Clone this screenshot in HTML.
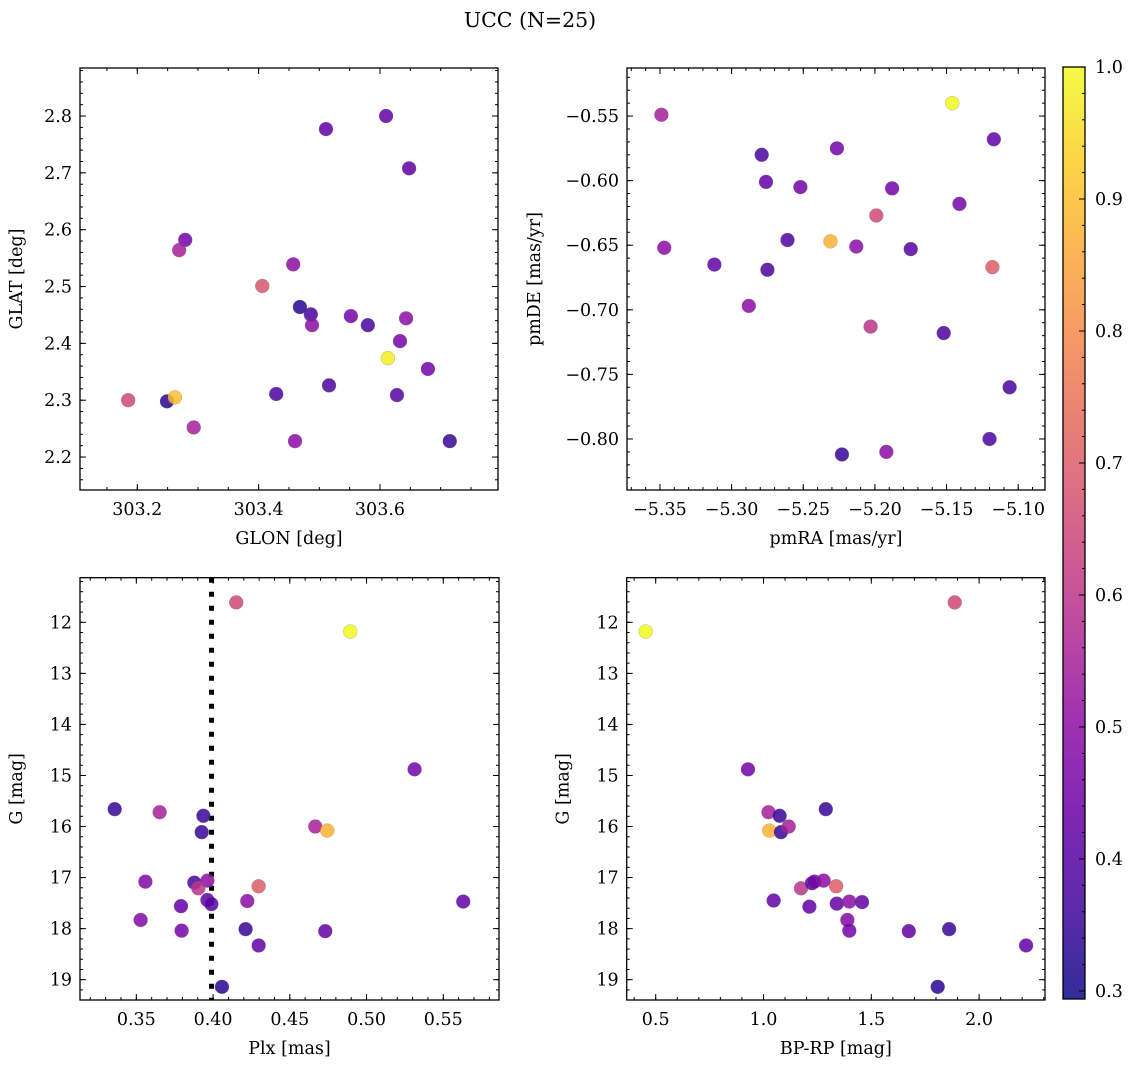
<!DOCTYPE html>
<html><head><meta charset="utf-8">
<style>
body{margin:0;background:#fff;}
svg{display:block;font-family:"DejaVu Serif","Liberation Serif",serif;}
</style></head>
<body>
<svg id="fig" width="1136" height="1067" viewBox="0 0 1136 1067" xmlns="http://www.w3.org/2000/svg">
<text x="530" y="27" font-size="20.5" text-anchor="middle">UCC (N=25)</text>
</svg>
<script>
// Panel 1: GLON / GLAT
const glon = [303.511,303.610,303.648,303.279,303.269,303.457,303.406,303.468,303.486,303.552,303.643,303.488,303.580,303.633,303.613,303.679,303.516,303.429,303.628,303.185,303.249,303.262,303.293,303.460,303.715];
const glat = [2.777,2.800,2.708,2.582,2.564,2.539,2.501,2.464,2.451,2.448,2.444,2.432,2.432,2.404,2.374,2.355,2.326,2.311,2.309,2.300,2.298,2.305,2.252,2.228,2.228];
const prob1 = [0.42,0.42,0.42,0.45,0.55,0.5,0.68,0.33,0.37,0.45,0.5,0.5,0.38,0.45,0.98,0.45,0.38,0.38,0.4,0.65,0.33,0.9,0.55,0.5,0.35];
// Panel 2: pmRA / pmDE
const pmra = [-5.146,-5.349,-5.117,-5.2265,-5.279,-5.276,-5.252,-5.188,-5.141,-5.199,-5.261,-5.231,-5.213,-5.347,-5.175,-5.312,-5.275,-5.118,-5.288,-5.203,-5.152,-5.106,-5.120,-5.192,-5.223];
const pmde = [-0.540,-0.549,-0.568,-0.575,-0.580,-0.601,-0.605,-0.606,-0.618,-0.627,-0.646,-0.647,-0.651,-0.652,-0.653,-0.665,-0.669,-0.667,-0.697,-0.713,-0.718,-0.760,-0.800,-0.810,-0.812];
const prob2 = [1.0,0.55,0.42,0.45,0.38,0.42,0.45,0.45,0.45,0.65,0.38,0.88,0.5,0.5,0.4,0.42,0.38,0.7,0.5,0.6,0.38,0.38,0.38,0.5,0.35];
// Panel 3: Plx / G
const plx = [0.4151,0.4894,0.5313,0.3359,0.3652,0.3937,0.3926,0.4666,0.4744,0.3559,0.3878,0.3963,0.3904,0.4297,0.3963,0.3989,0.4223,0.5630,0.3791,0.3528,0.3795,0.4212,0.4731,0.4297,0.4058];
const gmag3 = [11.61,12.18,14.88,15.66,15.72,15.79,16.11,16.00,16.08,17.08,17.10,17.06,17.21,17.17,17.44,17.52,17.46,17.47,17.56,17.83,18.04,18.01,18.05,18.33,19.14];
const prob3 = [0.65,1.0,0.45,0.35,0.55,0.35,0.35,0.55,0.88,0.48,0.38,0.5,0.6,0.7,0.42,0.4,0.5,0.42,0.42,0.48,0.45,0.35,0.42,0.42,0.33];
const plxLine = 0.399;
// Panel 4: BP-RP / G
const bprp = [0.4536,1.887,0.928,1.023,1.075,1.289,1.027,1.081,1.117,1.174,1.225,1.236,1.279,1.337,1.047,1.213,1.340,1.398,1.457,1.389,1.398,1.674,1.861,2.218,1.808];
const gmag4 = [12.18,11.61,14.88,15.72,15.79,15.66,16.08,16.11,16.00,17.21,17.11,17.08,17.06,17.17,17.45,17.57,17.51,17.47,17.48,17.83,18.04,18.05,18.01,18.33,19.14];
const prob4 = [1.0,0.65,0.45,0.55,0.35,0.35,0.88,0.35,0.55,0.6,0.38,0.45,0.5,0.7,0.42,0.42,0.42,0.5,0.42,0.48,0.45,0.42,0.35,0.42,0.33];
// Tick labels
const glonTicks = [303.2,303.4,303.6];
const glatTicks = [2.2,2.3,2.4,2.5,2.6,2.7,2.8];
const pmraTicks = [-5.35,-5.30,-5.25,-5.20,-5.15,-5.10];
const pmdeTicks = [-0.55,-0.60,-0.65,-0.70,-0.75,-0.80];
const plxTicks = [0.35,0.40,0.45,0.50,0.55];
const gTicks = [12,13,14,15,16,17,18,19];
const bprpTicks = [0.5,1.0,1.5,2.0];
const cbarTicks = [0.3,0.4,0.5,0.6,0.7,0.8,0.9,1.0];
const cmin = 0.2939, cmax = 1.0;

const FS = 17.5;
const NS = "http://www.w3.org/2000/svg";
const svg = document.getElementById('fig');
function mk(tag, attrs, parent){const e=document.createElementNS(NS,tag);for(const k in attrs)e.setAttribute(k,attrs[k]);(parent||svg).appendChild(e);return e;}
const stops=[[13,8,135],[65,4,157],[106,0,168],[143,13,164],[177,42,144],[204,71,120],[225,100,98],[242,132,75],[252,166,54],[252,206,37],[240,249,33]];
function plasma(t){t=Math.max(0,Math.min(1,t));const f=t*10,i=Math.min(9,Math.floor(f)),u=f-i;const a=stops[i],b=stops[i+1];return 'rgb('+a.map((v,k)=>Math.round(v+(b[k]-v)*u)).join(',')+')';}
function colorOf(p){return plasma((p-cmin)/(cmax-cmin));}
function fmt(v,d){const s=v.toFixed(d);return s.replace('-','\u2212');}

function panel(cfg){
  const g=mk('g',{});
  
  
  const {x0,x1,y0,y1,xmin,xmax,ymin,ymax,yinv}=cfg;
  const sx=v=>x0+(v-xmin)/(xmax-xmin)*(x1-x0);
  const sy=v=>yinv? y0+(v-ymin)/(ymax-ymin)*(y1-y0) : y1-(v-ymin)/(ymax-ymin)*(y1-y0);
  const ticks=mk('g',{stroke:'#000','stroke-width':1},g);
  
  
  const xs=Math.ceil(xmin/cfg.xminor-1e-9);
  for(let k=xs;k*cfg.xminor<=xmax;k++){const X=sx(k*cfg.xminor);mk('line',{x1:X,x2:X,y1:y1,y2:y1-3},ticks);mk('line',{x1:X,x2:X,y1:y0,y2:y0+3},ticks);}
  const ys=Math.ceil(Math.min(ymin,ymax)/cfg.yminor-1e-9);
  for(let k=ys;k*cfg.yminor<=Math.max(ymin,ymax);k++){const Y=sy(k*cfg.yminor);mk('line',{x1:x0,x2:x0+3,y1:Y,y2:Y},ticks);mk('line',{x1:x1,x2:x1-3,y1:Y,y2:Y},ticks);}
  cfg.xt.forEach(v=>{const X=sx(v);mk('line',{x1:X,x2:X,y1:y1,y2:y1-6},ticks);mk('line',{x1:X,x2:X,y1:y0,y2:y0+6},ticks);
    const t=mk('text',{x:X,y:y1+25,'font-size':FS,'text-anchor':'middle',stroke:'none',fill:'#000'},g);t.textContent=fmt(v,cfg.xd);
    
    });
  cfg.yt.forEach(v=>{const Y=sy(v);mk('line',{x1:x0,x2:x0+6,y1:Y,y2:Y},ticks);mk('line',{x1:x1,x2:x1-6,y1:Y,y2:Y},ticks);
    const t=mk('text',{x:x0-8,y:Y+6,'font-size':FS,'text-anchor':'end',fill:'#000'},g);t.textContent=fmt(v,cfg.yd);
    
    });
  if(cfg.vline!==undefined){const X=sx(cfg.vline);const l=mk('line',{x1:X,x2:X,y1:y0,y2:y1,stroke:'#000','stroke-width':5,'stroke-dasharray':'5,9'},g);
    
    }
  const pts=mk('g',{},g);
  
  
  cfg.xs.forEach((xv,i)=>{const c=mk('circle',{cx:sx(xv),cy:sy(cfg.ys[i]),r:7,fill:colorOf(cfg.ps[i]),'fill-opacity':0.85,stroke:'#777','stroke-width':0.4,'stroke-opacity':0.6},pts);
    
    });
  const fr=mk('rect',{x:x0,y:y0,width:x1-x0,height:y1-y0,fill:'none',stroke:'#000','stroke-width':1.3},g);
  
  
  const xl=mk('text',{x:(x0+x1)/2,y:y1+54,'font-size':FS,'text-anchor':'middle'},g);xl.textContent=cfg.xlab;
  
  
  const cy=(y0+y1)/2, cx=x0-cfg.ylOff;
  const yl=mk('text',{x:cx,y:cy,'font-size':FS,'text-anchor':'middle',transform:'rotate(-90 '+cx+' '+cy+')'},g);yl.textContent=cfg.ylab;
  
  
}

panel({name:'glon-glat-panel',x0:80,x1:498,y0:68,y1:490,xmin:303.1056,xmax:303.7945,ymin:2.142,ymax:2.8845,xminor:0.05,yminor:0.02,xt:glonTicks,yt:glatTicks,xd:1,yd:1,xs:glon,ys:glat,ps:prob1,xlab:'GLON [deg]',ylab:'GLAT [deg]',ylOff:58});
panel({name:'pm-panel',x0:627,x1:1045,y0:68,y1:490,xmin:-5.373,xmax:-5.0813,ymin:-0.8395,ymax:-0.5128,xminor:0.01,yminor:0.01,xt:pmraTicks,yt:pmdeTicks,xd:2,yd:2,xs:pmra,ys:pmde,ps:prob2,xlab:'pmRA [mas/yr]',ylab:'pmDE [mas/yr]',ylOff:87});
panel({name:'plx-g-panel',x0:80,x1:499,y0:577.7,y1:1000,xmin:0.3133,xmax:0.5863,ymin:11.126,ymax:19.398,yinv:true,xminor:0.01,yminor:0.2,xt:plxTicks,yt:gTicks,xd:2,yd:0,xs:plx,ys:gmag3,ps:prob3,xlab:'Plx [mas]',ylab:'G [mag]',ylOff:58,vline:plxLine});
panel({name:'cmd-panel',x0:626.7,x1:1045,y0:577.7,y1:1000,xmin:0.3655,xmax:2.3057,ymin:11.126,ymax:19.398,yinv:true,xminor:0.1,yminor:0.2,xt:bprpTicks,yt:gTicks,xd:1,yd:0,xs:bprp,ys:gmag4,ps:prob4,xlab:'BP-RP [mag]',ylab:'G [mag]',ylOff:58});

// colorbar
(function(){
  const x0=1063,x1=1085,y0=67,y1=999;
  const g=mk('g',{});
  
  
  const defs=mk('defs',{},g);
  const lg=mk('linearGradient',{id:'cb',x1:0,y1:1,x2:0,y2:0},defs);
  for(let i=0;i<=20;i++){mk('stop',{offset:i/20,'stop-color':plasma(i/20),'stop-opacity':0.85},lg);}
  mk('rect',{x:x0,y:y0,width:x1-x0,height:y1-y0,fill:'url(#cb)'},g);
  const sy=v=>y1-(v-cmin)/(cmax-cmin)*(y1-y0);
  for(let k=15;k<=50;k++){const v=k*0.02;if(v<cmin||v>cmax+1e-9)continue;const Y=sy(v);mk('line',{x1:x1,x2:x1-3,y1:Y,y2:Y,stroke:'#000'},g);}
  cbarTicks.forEach(v=>{const Y=sy(v);mk('line',{x1:x1,x2:x1-6,y1:Y,y2:Y,stroke:'#000'},g);
    const t=mk('text',{x:x1+10,y:Y+6,'font-size':FS},g);t.textContent=v.toFixed(1);
    
    });
  mk('rect',{x:x0,y:y0,width:x1-x0,height:y1-y0,fill:'none',stroke:'#000','stroke-width':1.3},g);
})();
</script>
</body></html>
